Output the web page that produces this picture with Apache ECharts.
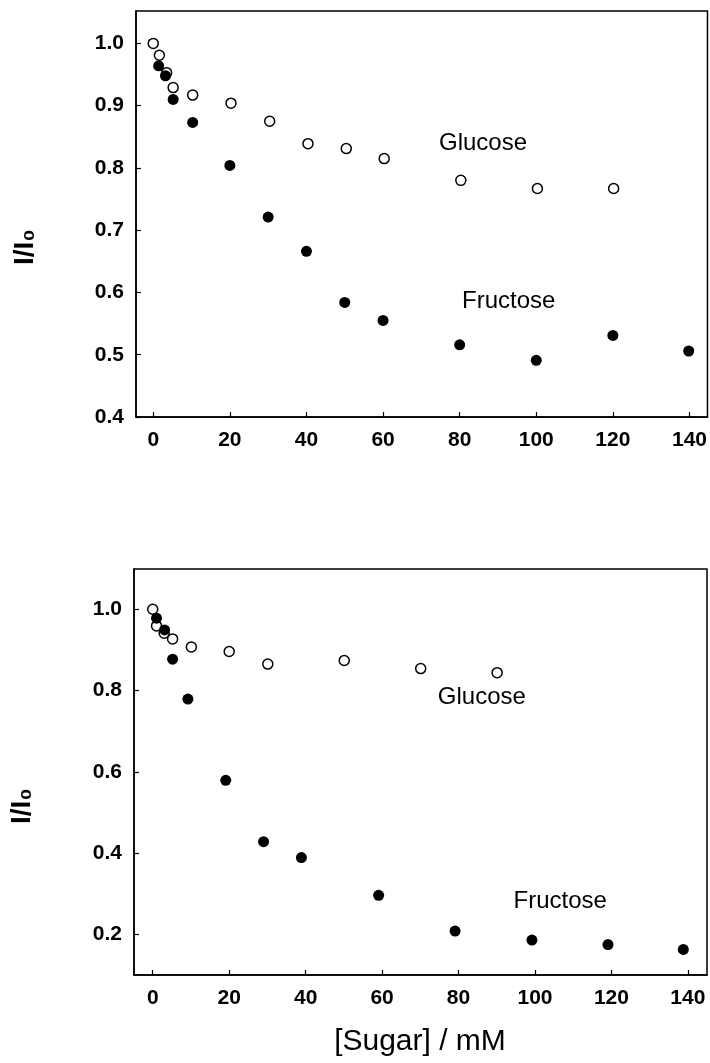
<!DOCTYPE html>
<html>
<head>
<meta charset="utf-8">
<style>
html,body{margin:0;padding:0;background:#fff;}
#chart{width:710px;height:1063px;}
</style>
<script src="https://cdn.jsdelivr.net/npm/echarts@6/dist/echarts.min.js"></script>
</head>
<body>
<div id="chart"></div>
<script>
// ---- Top panel data ----
const topGlucoseX = [0, 1.6, 3.5, 5.2, 10.3, 20.3, 30.4, 40.4, 50.4, 60.3, 80.3, 100.3, 120.2];
const topGlucoseY = [1.0, 0.981, 0.953, 0.929, 0.917, 0.904, 0.875, 0.839, 0.831, 0.815, 0.780, 0.767, 0.767];
const topFructoseX = [1.4, 3.2, 5.2, 10.3, 20, 30, 40, 50, 60, 80, 100, 120, 139.8];
const topFructoseY = [0.964, 0.948, 0.910, 0.873, 0.804, 0.721, 0.666, 0.584, 0.555, 0.516, 0.491, 0.531, 0.506];
// ---- Bottom panel data ----
const botGlucoseX = [0, 1.0, 3.0, 5.2, 10.1, 20, 30.1, 50.1, 70.1, 90.1];
const botGlucoseY = [1.0, 0.959, 0.941, 0.927, 0.907, 0.896, 0.865, 0.874, 0.854, 0.844];
const botFructoseX = [1.0, 3.1, 5.2, 9.2, 19.1, 29, 38.9, 59.1, 79.1, 99.2, 119.1, 138.8];
const botFructoseY = [0.978, 0.949, 0.877, 0.779, 0.579, 0.428, 0.389, 0.296, 0.208, 0.186, 0.175, 0.163];
// ---- Ticks ----
const xTicks = [0, 20, 40, 60, 80, 100, 120, 140];
const topYTicks = [0.4, 0.5, 0.6, 0.7, 0.8, 0.9, 1.0];
const botYTicks = [0.2, 0.4, 0.6, 0.8, 1.0];
// ---- Annotations ----
const annotNames = ['Glucose', 'Fructose'];
const topAnnotX = [86.1, 92.8];
const topAnnotY = [0.840, 0.585];
const botAnnotX = [86.1, 106.6];
const botAnnotY = [0.783, 0.282];
const xTitle = '[Sugar] / mM';
const yTitle = 'I/I\u2080';

const FONT = '"Liberation Sans", Arial, sans-serif';
const zip = (a, b) => a.map((v, i) => [v, b[i]]);

function xAxis(gi, min, max) {
  return {
    type: 'value', gridIndex: gi, min: min, max: max,
    axisLine: {show: true, onZero: false, lineStyle: {color: '#000', width: 1.5}},
    axisTick: {show: true, inside: true, length: 5, customValues: xTicks, lineStyle: {color: '#000', width: 1.2}},
    axisLabel: {customValues: xTicks, margin: 13, color: '#000', fontSize: 21, fontWeight: 'bold', fontFamily: FONT},
    splitLine: {show: false}
  };
}
function yAxis(gi, min, max, ticks) {
  return {
    type: 'value', gridIndex: gi, min: min, max: max,
    axisLine: {show: true, onZero: false, lineStyle: {color: '#000', width: 1.5}},
    axisTick: {show: true, inside: true, length: 5, customValues: ticks, lineStyle: {color: '#000', width: 1.2}},
    axisLabel: {customValues: ticks, margin: 12, color: '#000', fontSize: 21, fontWeight: 'bold', fontFamily: FONT,
      formatter: v => Number(v).toFixed(1)},
    splitLine: {show: false}
  };
}
function openSeries(xi, x, y) {
  return {type: 'scatter', xAxisIndex: xi, yAxisIndex: xi, data: zip(x, y), symbol: 'circle', symbolSize: 10,
    itemStyle: {color: '#fff', borderColor: '#000', borderWidth: 1.5, opacity: 1}, silent: true, z: 3};
}
function filledSeries(xi, x, y) {
  return {type: 'scatter', xAxisIndex: xi, yAxisIndex: xi, data: zip(x, y), symbol: 'circle', symbolSize: 11,
    itemStyle: {color: '#000', borderColor: '#000', borderWidth: 0, opacity: 1}, silent: true, z: 4};
}
function annotSeries(xi, x, y) {
  return {type: 'scatter', xAxisIndex: xi, yAxisIndex: xi, symbolSize: 1, silent: true, z: 5,
    data: x.map((v, i) => ({value: [v, y[i]], name: annotNames[i]})),
    itemStyle: {color: 'rgba(0,0,0,0)', opacity: 1},
    label: {show: true, position: 'inside', formatter: p => p.name, color: '#000', opacity: 1, fontSize: 24, fontFamily: FONT}};
}

const chart = echarts.init(document.getElementById('chart'), null, {renderer: 'canvas'});
chart.setOption({
  backgroundColor: '#fff',
  animation: false,
  grid: [
    {left: 136, top: 11, right: 2, height: 406, show: true, borderColor: '#000', borderWidth: 1.5, backgroundColor: 'transparent'},
    {left: 134, top: 569, right: 3, height: 406, show: true, borderColor: '#000', borderWidth: 1.5, backgroundColor: 'transparent'}
  ],
  xAxis: [xAxis(0, -4.5, 144.7), xAxis(1, -4.9, 145)],
  yAxis: [yAxis(0, 0.4, 1.052, topYTicks), yAxis(1, 0.1, 1.099, botYTicks)],
  series: [
    openSeries(0, topGlucoseX, topGlucoseY),
    filledSeries(0, topFructoseX, topFructoseY),
    annotSeries(0, topAnnotX, topAnnotY),
    openSeries(1, botGlucoseX, botGlucoseY),
    filledSeries(1, botFructoseX, botFructoseY),
    annotSeries(1, botAnnotX, botAnnotY)
  ],
  graphic: [
    {type: 'text', x: 25, y: 247, rotation: Math.PI / 2,
      style: {text: yTitle, fontSize: 28, fontWeight: 'bold', fontFamily: FONT, fill: '#000', align: 'center', verticalAlign: 'middle'}},
    {type: 'text', x: 22, y: 806, rotation: Math.PI / 2,
      style: {text: yTitle, fontSize: 28, fontWeight: 'bold', fontFamily: FONT, fill: '#000', align: 'center', verticalAlign: 'middle'}},
    {type: 'text', x: 420, y: 1042,
      style: {text: xTitle, fontSize: 30, fontFamily: FONT, fill: '#000', align: 'center', verticalAlign: 'middle'}}
  ]
});
</script>
</body>
</html>
